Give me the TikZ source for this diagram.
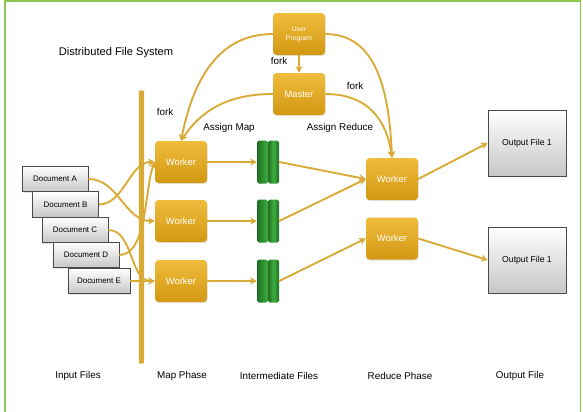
\documentclass[tikz,border=0pt]{standalone}
\usepackage{fontspec}
\setmainfont{Liberation Sans}
\usetikzlibrary{arrows.meta,shadows}

\definecolor{goldtop}{HTML}{F0BC3C}
\definecolor{goldbot}{HTML}{D29812}
\definecolor{goldline}{HTML}{D9AA36}
\definecolor{framegreen}{HTML}{8CC850}
\definecolor{fileL}{HTML}{40AD40}
\definecolor{fileD}{HTML}{1C7020}
\definecolor{docedge}{HTML}{4A4A4A}

\tikzset{
  gbox/.style={rectangle, rounded corners=3pt, top color=goldtop, bottom color=goldbot,
    minimum width=1.56cm, minimum height=1.26cm, text=white, align=center,
    font=\fontsize{8}{9.6}\selectfont,
    drop shadow={opacity=0.2, shadow xshift=0.6pt, shadow yshift=-1pt}},
  dbox/.style={rectangle, draw=docedge, line width=0.6pt, top color=white, bottom color=black!22,
    minimum width=1.98cm, minimum height=0.76cm, inner sep=1pt,
    font=\fontsize{6.8}{8}\selectfont,
    drop shadow={opacity=0.2, shadow xshift=0.6pt, shadow yshift=-1pt}},
  obox/.style={dbox, minimum width=2.34cm, minimum height=1.98cm, font=\fontsize{7.4}{9}\selectfont},
  ifile/.style={rectangle, rounded corners=1.5pt, minimum width=0.66cm, minimum height=1.29cm,
    inner sep=0pt,
    path picture={
      \shade[left color=fileD, right color=fileD, middle color=fileL]
        (path picture bounding box.north west) rectangle (path picture bounding box.south);
      \shade[left color=fileD, right color=fileD, middle color=fileL]
        (path picture bounding box.north) rectangle (path picture bounding box.south east);
    }},
  flow/.style={draw=goldline, line width=1.6pt, -{Stealth[length=5.5pt, width=6pt, inset=1.5pt]}},
  lbl/.style={font=\fontsize{8.4}{10}\selectfont},
}

\begin{document}
\begin{tikzpicture}[x=0.03cm, y=-0.03cm]
\useasboundingbox (0,0) rectangle (583,411);
\draw[framegreen, line width=1.3pt] (5,1.2) rectangle (580.5,413);

% master side
\node[gbox, font=\fontsize{5.8}{7.7}\selectfont] (uprog) at (299,34) {User\\Program};
\node[gbox] (master) at (299,94) {Master};

% distributed file system
\node[lbl, font=\fontsize{9.5}{11}\selectfont] (dfslabel) at (116,53) {Distributed File System};
\node[fill=goldline, rounded corners=1pt, minimum width=0.16cm, minimum height=8.2cm, inner sep=0pt] (dfs) at (141.5,227) {};

% input files
\node[dbox] (docA) at (55,179) {Document A};
\node[dbox] (docB) at (65.5,204.5) {Document B};
\node[dbox] (docC) at (75,230) {Document C};
\node[dbox] (docD) at (86,255) {Document D};
\node[dbox, minimum width=1.86cm] (docE) at (99,281) {Document E};

% map workers and intermediate files
\foreach \i/\y in {1/162, 2/221, 3/281} {
  \node[gbox] (map\i) at (181,\y) {Worker};
  \node[ifile] (im\i) at (268,\y) {};
}

% reduce workers and output files
\node[gbox] (red1) at (392,179) {Worker};
\node[gbox] (red2) at (392,238.5) {Worker};
\node[obox] (out1) at (527,143) {Output File 1};
\node[obox] (out2) at (527,260) {Output File 1};

% labels
\node[lbl] (fork1) at (279,61) {fork};
\node[lbl] (fork2) at (165,112) {fork};
\node[lbl] (fork3) at (355,86) {fork};
\node[lbl] (asgmap) at (229,128) {Assign Map};
\node[lbl] (asgred) at (340,128) {Assign Reduce};
\node[lbl] (phin) at (78,376) {Input Files};
\node[lbl] (phmap) at (182,376) {Map Phase};
\node[lbl] (phim) at (279,376) {Intermediate Files};
\node[lbl] (phred) at (400,376) {Reduce Phase};
\node[lbl] (phout) at (520,376) {Output File};

% fork and assign
\draw[flow] (uprog.south) -- (master.north);
\draw[flow] (uprog.west) .. controls +(-55,0) and +(12,-60) .. (map1.north);
\draw[flow] (master.west) .. controls +(-45,0) and +(20,-30) .. (map1.north);
\draw[flow] (uprog.east) .. controls +(50,0) and +(-3,-70) .. (red1.north);
\draw[flow] (master.east) .. controls +(45,0) and +(-5,-35) .. (red1.north);

% splits
\draw[flow] (docA.east) .. controls +(30,0) and +(-30,0) .. (map2.west);
\draw[flow] (docB.east) .. controls +(25,0) and +(-25,0) .. (map1.west);
\draw[flow] (docC.east) .. controls +(25,0) and +(-25,0) .. (map3.west);
\draw[flow] (docD.east) .. controls +(28,0) and +(-10,25) .. (map1.west);
\draw[flow] (docE.east) -- (map3.west);

% map, shuffle, reduce
\foreach \i in {1,2,3}
  \draw[flow] (map\i.east) -- (im\i.west);
\draw[flow] (im1.east) -- (red1.west);
\draw[flow] (im2.east) -- (red1.west);
\draw[flow] (im3.east) -- (red2.west);
\draw[flow] (red1.east) -- (out1.west);
\draw[flow] (red2.east) -- (out2.west);
\end{tikzpicture}
\end{document}
